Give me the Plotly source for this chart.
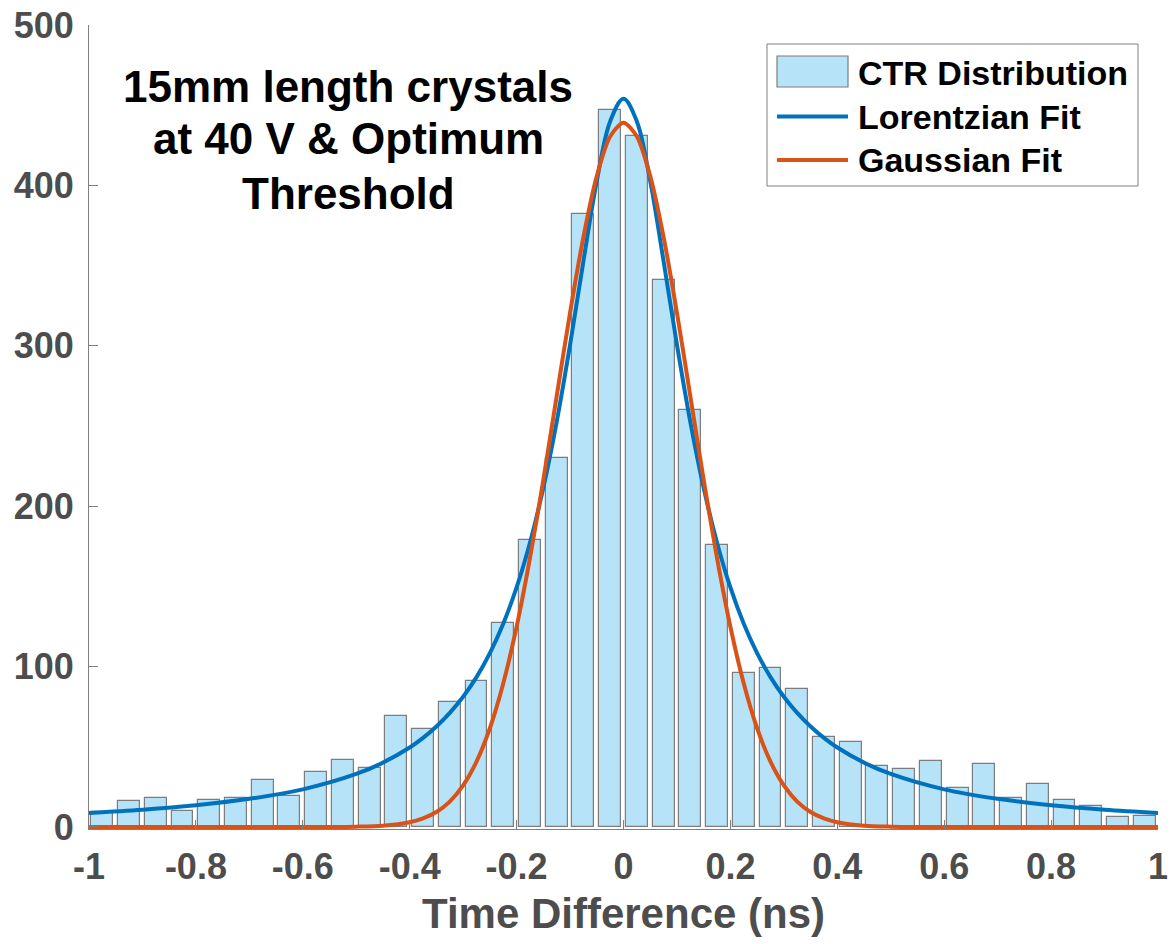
import plotly.graph_objects as go

# ---- data ----
bin_centers = [-0.975, -0.925, -0.875, -0.825, -0.775, -0.725, -0.675, -0.625, -0.575, -0.525,
               -0.475, -0.425, -0.375, -0.325, -0.275, -0.225, -0.175, -0.125, -0.075, -0.025,
               0.025, 0.075, 0.125, 0.175, 0.225, 0.275, 0.325, 0.375, 0.425, 0.475,
               0.525, 0.575, 0.625, 0.675, 0.725, 0.775, 0.825, 0.875, 0.925, 0.975]
counts = [9, 16, 18, 10, 17, 18, 29, 19, 34, 42,
          37, 69, 61, 78, 91, 127, 179, 230, 382, 447,
          431, 341, 260, 176, 96, 99, 86, 56, 53, 38,
          36, 41, 24, 39, 18, 27, 17, 13, 6, 7]

fit_x = [-1.0, -0.9, -0.8, -0.7, -0.6, -0.5, -0.45, -0.4, -0.375, -0.35, -0.325, -0.3, -0.275,
         -0.25, -0.225, -0.2, -0.175, -0.15, -0.125, -0.1, -0.075, -0.05, -0.025, 0.0,
         0.025, 0.05, 0.075, 0.1, 0.125, 0.15, 0.175, 0.2, 0.225, 0.25, 0.275, 0.3,
         0.325, 0.35, 0.375, 0.4, 0.45, 0.5, 0.6, 0.7, 0.8, 0.9, 1.0]
lorentz_y = [8.7, 10.7, 13.5, 17.5, 23.4, 33.0, 40.1, 49.5, 55.5, 62.6, 71.1, 81.2, 93.4,
             108.4, 126.7, 149.3, 177.2, 211.4, 252.6, 300.6, 352.7, 402.6, 439.9, 454.0,
             439.9, 402.6, 352.7, 300.6, 252.6, 211.4, 177.2, 149.3, 126.7, 108.4, 93.4, 81.2,
             71.1, 62.6, 55.5, 49.5, 40.1, 33.0, 23.4, 17.5, 13.5, 10.7, 8.7]
gauss_y = [0.0, 0.0, 0.0, 0.0, 0.0, 0.17, 0.75, 2.9, 5.3, 9.3, 15.8, 25.9, 40.7,
           61.5, 89.4, 124.8, 167.6, 216.4, 268.6, 320.6, 367.8, 405.8, 430.5, 439.0,
           430.5, 405.8, 367.8, 320.6, 268.6, 216.4, 167.6, 124.8, 89.4, 61.5, 40.7, 25.9,
           15.8, 9.3, 5.3, 2.9, 0.75, 0.17, 0.0, 0.0, 0.0, 0.0, 0.0]

x_ticks = [-1, -0.8, -0.6, -0.4, -0.2, 0, 0.2, 0.4, 0.6, 0.8, 1]
x_tick_text = ["-1", "-0.8", "-0.6", "-0.4", "-0.2", "0", "0.2", "0.4", "0.6", "0.8", "1"]
y_ticks = [0, 100, 200, 300, 400, 500]

legend_names = ["CTR Distribution", "Lorentzian Fit", "Gaussian Fit"]
note_lines = ["15mm length crystals", "at 40 V & Optimum", "Threshold"]
x_title = "Time Difference (ns)"

# ---- styles ----
FONT = "Liberation Sans, Arial, sans-serif"
BAR_FILL = "#b6e3f7"
BAR_EDGE = "#7d7d7d"
BLUE = "#0072BD"
ORANGE = "#D95319"
TICK_COL = "#4d4d4d"
AXIS_COL = "#7f7f7f"

fig = go.Figure()
fig.add_trace(go.Bar(x=bin_centers, y=counts, width=0.041,
                     marker=dict(color=BAR_FILL, line=dict(color=BAR_EDGE, width=1.2)),
                     name=legend_names[0], showlegend=False))
fig.add_trace(go.Scatter(x=fit_x, y=lorentz_y, mode="lines",
                         line=dict(color=BLUE, width=4, shape="spline", smoothing=1.0),
                         name=legend_names[1], showlegend=False))
fig.add_trace(go.Scatter(x=fit_x, y=gauss_y, mode="lines",
                         line=dict(color=ORANGE, width=4, shape="spline", smoothing=0.8),
                         name=legend_names[2], showlegend=False))

W, H = 1175, 944
ML, MR, MT, MB = 89, 17, 25, 115
PW, PH = W - ML - MR, H - MT - MB

def px(xp):
    return (xp - ML) / PW

def py(yp):
    return (H - MB - yp) / PH

fig.update_layout(
    width=W, height=H,
    margin=dict(l=ML, r=MR, t=MT, b=MB, pad=0, autoexpand=False),
    paper_bgcolor="white", plot_bgcolor="white",
    bargap=0, showlegend=False,
    font=dict(family=FONT),
)
fig.update_xaxes(range=[-1, 1], tickvals=x_ticks, ticktext=x_tick_text, automargin=False,
                 ticks="inside", ticklen=9, tickcolor=AXIS_COL, tickwidth=1,
                 showline=True, linecolor=AXIS_COL, linewidth=1, showgrid=False, zeroline=False,
                 tickfont=dict(family=FONT, size=36, color=TICK_COL, weight="bold"),
                 ticklabelstandoff=6)
fig.update_yaxes(range=[-1.3, 500], tickvals=y_ticks, automargin=False,
                 ticks="inside", ticklen=9, tickcolor=AXIS_COL, tickwidth=1,
                 showline=True, linecolor=AXIS_COL, linewidth=1, showgrid=False, zeroline=False,
                 tickfont=dict(family=FONT, size=36, color=TICK_COL, weight="bold"),
                 ticklabelstandoff=7)

annotations = []
# x-axis title
annotations.append(dict(text=x_title, xref="paper", yref="paper", x=0.5, y=py(913),
                        xanchor="center", yanchor="middle", showarrow=False,
                        font=dict(family=FONT, size=42, color=TICK_COL, weight="bold")))
# text block
for line, yc in zip(note_lines, [86, 139, 194]):
    annotations.append(dict(text=line, xref="paper", yref="paper", x=px(348), y=py(yc),
                            xanchor="center", yanchor="middle", showarrow=False,
                            font=dict(family=FONT, size=44, color="black", weight="bold")))
# manual legend
shapes = []
shapes.append(dict(type="rect", xref="paper", yref="paper",
                   x0=px(767), x1=px(1138), y0=py(186), y1=py(44),
                   line=dict(color=AXIS_COL, width=1), fillcolor="white", layer="above"))
shapes.append(dict(type="rect", xref="paper", yref="paper",
                   x0=px(777), x1=px(848), y0=py(87), y1=py(56),
                   line=dict(color=BAR_EDGE, width=1.2), fillcolor=BAR_FILL, layer="above"))
shapes.append(dict(type="line", xref="paper", yref="paper",
                   x0=px(777), x1=px(848), y0=py(116.5), y1=py(116.5),
                   line=dict(color=BLUE, width=4), layer="above"))
shapes.append(dict(type="line", xref="paper", yref="paper",
                   x0=px(777), x1=px(848), y0=py(160), y1=py(160),
                   line=dict(color=ORANGE, width=4), layer="above"))
for name, yc in zip(legend_names, [73, 116.5, 160]):
    annotations.append(dict(text=name, xref="paper", yref="paper", x=px(856), y=py(yc),
                            xanchor="left", yanchor="middle", showarrow=False,
                            font=dict(family=FONT, size=34, color="black", weight="bold")))

fig.update_layout(annotations=annotations, shapes=shapes)
fig.write_html("out.html")
